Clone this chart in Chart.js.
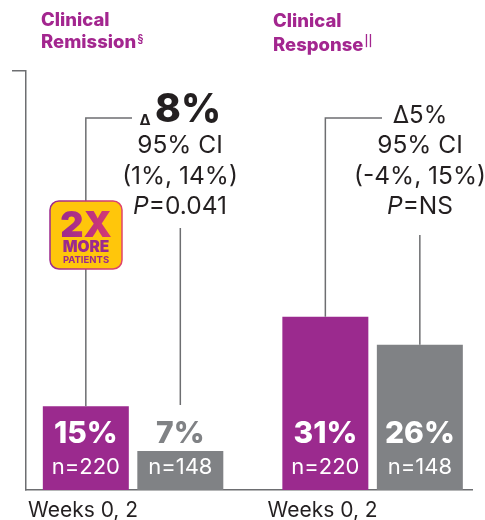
<!DOCTYPE html>
<html>
<head>
<meta charset="utf-8">
<style>
  body { margin: 0; background: #fff; }
</style>
</head>
<body>
<canvas id="myChart" width="485" height="520"></canvas>
<script src="https://cdn.jsdelivr.net/npm/chart.js@4"></script>
<script>
const categories = ["Weeks 0, 2", "Weeks 0, 2"];
const groupTitles = [["Clinical", "Remission"], ["Clinical", "Response"]];
const groupMarks = ["§", "||"];
const drugValues = [15, 31];
const placeboValues = [7, 26];
const drugN = [220, 220];
const placeboN = [148, 148];
const deltas = ["8%", "5%"];
const cis = ["(1%, 14%)", "(-4%, 15%)"];
const pValues = ["0.041", "NS"];

const PURPLE = "#9b2a8e";
const GREY = "#808285";
const AXIS = "#6d6e71";
const FONT = "Inter, 'Open Sans', sans-serif";

function text(ctx, str, x, y, font, color, align) {
  ctx.font = font + " " + FONT;
  ctx.fillStyle = color;
  ctx.textAlign = align || "center";
  ctx.textBaseline = "alphabetic";
  ctx.fillText(str, x, y);
}

const annotations = {
  id: "annotations",
  afterDatasetsDraw(chart) {
    const ctx = chart.ctx;
    const drugBars = chart.getDatasetMeta(0).data;
    const placeboBars = chart.getDatasetMeta(1).data;
    ctx.save();

    // leader lines above the bars
    const leaderEnds = [132, 382];
    const greyTops = [228, 235];
    ctx.strokeStyle = AXIS;
    ctx.lineWidth = 1.5;
    drugBars.forEach((bar, i) => {
      ctx.beginPath();
      ctx.moveTo(bar.x, bar.y);
      ctx.lineTo(bar.x, 118);
      ctx.lineTo(leaderEnds[i], 118);
      ctx.stroke();
      ctx.beginPath();
      ctx.moveTo(placeboBars[i].x, i === 0 ? 405 : placeboBars[i].y);
      ctx.lineTo(placeboBars[i].x, greyTops[i]);
      ctx.stroke();
    });

    // values inside the bars
    drugBars.forEach((bar, i) => {
      text(ctx, drugValues[i] + "%", bar.x, 443, "800 30px", "#fff");
      text(ctx, "n=" + drugN[i], bar.x, 474, "400 22px", "#fff");
    });
    placeboBars.forEach((bar, i) => {
      text(ctx, placeboValues[i] + "%", bar.x, 443, "800 30px", i === 0 ? GREY : "#fff");
      text(ctx, "n=" + placeboN[i], bar.x, 474, "400 22px", "#fff");
    });

    // group titles
    const titleX = [41, 273];
    const titleY = [[26, 48], [27, 51]];
    groupTitles.forEach((lines, i) => {
      text(ctx, lines[0], titleX[i], titleY[i][0], "800 18.5px", "#a3268f", "left");
      text(ctx, lines[1], titleX[i], titleY[i][1], "800 18.5px", "#a3268f", "left");
      const w = ctx.measureText(lines[1]).width;
      text(ctx, groupMarks[i], titleX[i] + w + 1, titleY[i][1] - 6, "600 11px", "#a3268f", "left");
    });

    // delta blocks
    text(ctx, "Δ", 145, 125, "700 15px", "#231f20");
    text(ctx, deltas[0], 188, 122, "800 39px", "#231f20");
    text(ctx, "Δ" + deltas[1], 420, 123, "400 24px", "#231f20");
    const blockX = [180, 420];
    const blockY = [[153, 184, 214], [153, 184, 214]];
    blockX.forEach((x, i) => {
      text(ctx, "95% CI", x, blockY[i][0], "400 24.5px", "#231f20");
      text(ctx, cis[i], x, blockY[i][1], "400 24.5px", "#231f20");
      ctx.font = "italic 400 24.5px " + FONT;
      const pw = ctx.measureText("P").width;
      ctx.font = "400 24.5px " + FONT;
      const rest = "=" + pValues[i];
      const start = x - (pw + ctx.measureText(rest).width) / 2;
      text(ctx, "P", start, blockY[i][2], "italic 400 24.5px", "#231f20", "left");
      text(ctx, rest, start + pw, blockY[i][2], "400 24.5px", "#231f20", "left");
    });

    // 2X badge
    const edge = ctx.createLinearGradient(50, 0, 122, 0);
    edge.addColorStop(0, "#9b2a8e");
    edge.addColorStop(1, "#e0446a");
    ctx.beginPath();
    ctx.roundRect(50, 201, 72, 68, 9);
    ctx.fillStyle = "#ffc60b";
    ctx.fill();
    ctx.strokeStyle = edge;
    ctx.lineWidth = 1.5;
    ctx.stroke();
    const fill = ctx.createLinearGradient(60, 0, 112, 0);
    fill.addColorStop(0, "#9b2a8e");
    fill.addColorStop(1, "#d63a74");
    text(ctx, "2X", 86, 237, "900 36px", fill);
    text(ctx, "MORE", 86, 252, "900 15.5px", "#9b2a8e");
    text(ctx, "PATIENTS", 86, 263, "700 9.5px", "#9b2a8e");

    ctx.restore();
  },
};

new Chart(document.getElementById("myChart"), {
  type: "bar",
  data: {
    datasets: [
      {
        data: drugValues.map((v, i) => ({ x: i, y: v })),
        backgroundColor: PURPLE,
        categoryPercentage: 0.789,
        barPercentage: 0.91,
      },
      {
        data: placeboValues.map((v, i) => ({ x: i, y: v })),
        backgroundColor: GREY,
        categoryPercentage: 0.789,
        barPercentage: 0.91,
      },
    ],
  },
  options: {
    responsive: false,
    animation: false,
    layout: { padding: { left: 12, right: 13, top: 71, bottom: 0 } },
    plugins: { legend: { display: false }, tooltip: { enabled: false } },
    scales: {
      x: {
        type: "linear",
        offset: false,
        min: -0.447,
        max: 1.415,
        afterBuildTicks(scale) {
          scale.ticks = categories.map((c, i) => ({ value: i }));
        },
        afterFit(scale) {
          scale.height = 30;
        },
        grid: { display: false },
        border: { color: AXIS, width: 1.5 },
        ticks: {
          callback: (value) => categories[value],
          autoSkip: false,
          maxRotation: 0,
          labelOffset: -50,
          padding: 0,
          color: "#231f20",
          font: { family: FONT, size: 21 },
        },
      },
      y: {
        min: 0,
        max: 75,
        afterBuildTicks(scale) {
          scale.ticks = [{ value: 75 }];
        },
        afterFit(scale) {
          scale.width = 14;
        },
        grid: { drawOnChartArea: false, tickLength: 14, color: AXIS, lineWidth: 1.5 },
        border: { color: AXIS, width: 1.5 },
        ticks: { callback: () => "", padding: 0 },
      },
    },
  },
  plugins: [annotations],
});
</script>
</body>
</html>
